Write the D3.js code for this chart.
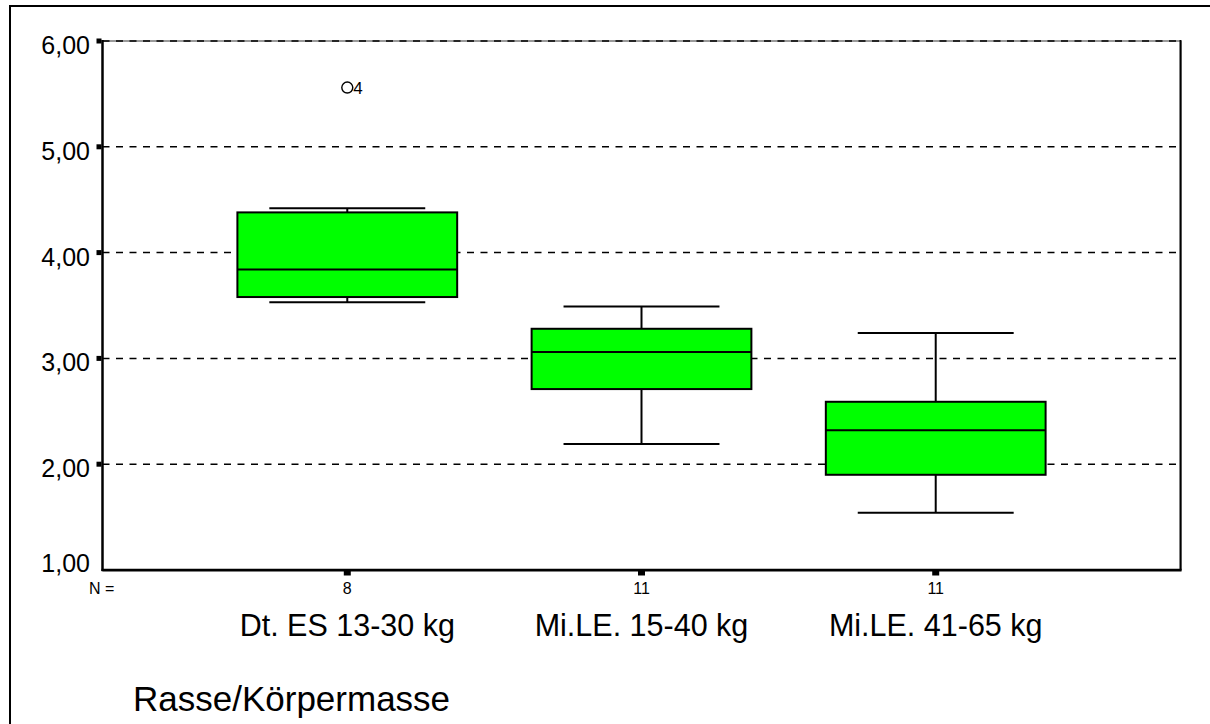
<!DOCTYPE html>
<html>
<head>
<meta charset="utf-8">
<script src="https://cdn.jsdelivr.net/npm/d3@7"></script>
<style>
  body { margin: 0; background: #fff; }
  svg { display: block; font-family: "Liberation Sans", Arial, sans-serif; }
</style>
</head>
<body>
<div id="chart"></div>
<script>
// data
var categories = ["Dt. ES 13-30 kg", "Mi.LE. 15-40 kg", "Mi.LE. 41-65 kg"];
var counts = [8, 11, 11];
var whiskerLow = [3.53, 2.19, 1.54];
var q1 = [3.58, 2.71, 1.90];
var median = [3.84, 3.06, 2.32];
var q3 = [4.38, 3.28, 2.59];
var whiskerHigh = [4.42, 3.49, 3.24];
var outliers = [{cat: 0, value: 5.56, label: "4"}];
var yTicks = [1, 2, 3, 4, 5, 6];
var axisTitle = "Rasse/Körpermasse";

var width = 1210, height = 724;
var plot = {left: 102.5, right: 1180.5, top: 41, bottom: 570};

var de = d3.formatLocale({decimal: ",", thousands: ".", grouping: [3], currency: ["", " €"]});
var fmt = de.format(".2f");

var svg = d3.select("#chart").append("svg")
    .attr("width", width)
    .attr("height", height);

// outer frame (cut off at right / bottom)
svg.append("rect")
    .attr("x", 10).attr("y", 6)
    .attr("width", 1220).attr("height", 740)
    .attr("fill", "none").attr("stroke", "#000").attr("stroke-width", 2);

var x = d3.scalePoint()
    .domain(categories)
    .range([plot.left, plot.right])
    .padding(0.832);

var y = d3.scaleLinear()
    .domain([1, 6])
    .range([plot.bottom, plot.top]);

var step = x.step();
var boxW = step * 0.747;
var capW = step * 0.53;

// plot frame
svg.append("line")
    .attr("x1", plot.left).attr("x2", plot.right)
    .attr("y1", y(6)).attr("y2", y(6))
    .attr("stroke", "#999").attr("stroke-width", 2);
svg.append("line")
    .attr("x1", plot.right + 1).attr("x2", plot.right + 1)
    .attr("y1", y(6)).attr("y2", y(1) + 1)
    .attr("stroke", "#aaa").attr("stroke-width", 1);
svg.append("line")
    .attr("x1", plot.left).attr("x2", plot.right + 1)
    .attr("y1", y(1) + 1.5).attr("y2", y(1) + 1.5)
    .attr("stroke", "#aaa").attr("stroke-width", 1);
svg.append("line")
    .attr("x1", plot.right).attr("x2", plot.right)
    .attr("y1", y(6) - 1).attr("y2", y(1))
    .attr("stroke", "#000").attr("stroke-width", 2);

// dashed grid lines
svg.append("g")
    .selectAll("line")
    .data(yTicks.filter(function (d) { return d > 1; }))
    .enter().append("line")
    .attr("x1", plot.left).attr("x2", plot.right - 1)
    .attr("y1", function (d) { return y(d); })
    .attr("y2", function (d) { return y(d); })
    .attr("stroke", "#000")
    .attr("stroke-width", 1.5)
    .attr("stroke-dasharray", "7,6.5");

svg.append("line")
    .attr("x1", plot.left).attr("x2", plot.left)
    .attr("y1", y(6) - 1).attr("y2", y(1) + 1)
    .attr("stroke", "#000").attr("stroke-width", 2.5);
svg.append("line")
    .attr("x1", plot.left - 1).attr("x2", plot.right + 1)
    .attr("y1", y(1)).attr("y2", y(1))
    .attr("stroke", "#000").attr("stroke-width", 2.5);

// y ticks and labels
var yg = svg.append("g");
yg.selectAll("rect")
    .data(yTicks.filter(function (d) { return d > 1; }))
    .enter().append("rect")
    .attr("x", plot.left - 6)
    .attr("y", function (d) { return y(d) - 2.5; })
    .attr("width", 5).attr("height", 5)
    .attr("fill", "#000");
yg.selectAll("text")
    .data(yTicks)
    .enter().append("text")
    .attr("x", 90)
    .attr("y", function (d) { return d === 1 ? y(d) + 2 : y(d) + 13; })
    .attr("text-anchor", "end")
    .attr("font-size", 25)
    .attr("fill", "#000")
    .text(function (d) { return fmt(d); });

// x ticks, counts and labels
var xg = svg.append("g");
xg.selectAll("rect")
    .data(categories)
    .enter().append("rect")
    .attr("x", function (d) { return x(d) - 3.5; })
    .attr("y", y(1) + 0.5)
    .attr("width", 7).attr("height", 5)
    .attr("fill", "#000");
xg.selectAll("text.n")
    .data(categories)
    .enter().append("text")
    .attr("class", "n")
    .attr("x", function (d) { return x(d); })
    .attr("y", 594)
    .attr("text-anchor", "middle")
    .attr("font-size", 16)
    .text(function (d, i) { return counts[i]; });
xg.append("text")
    .attr("x", 89).attr("y", 594)
    .attr("font-size", 16)
    .text("N =");
xg.selectAll("text.cat")
    .data(categories)
    .enter().append("text")
    .attr("class", "cat")
    .attr("x", function (d) { return x(d); })
    .attr("y", 636)
    .attr("text-anchor", "middle")
    .attr("font-size", 30.5)
    .text(function (d) { return d; });

svg.append("text")
    .attr("x", 133).attr("y", 711)
    .attr("font-size", 35)
    .text(axisTitle);

// boxes
var boxes = svg.append("g")
    .selectAll("g")
    .data(categories)
    .enter().append("g");

boxes.append("line")
    .attr("x1", function (d) { return x(d); })
    .attr("x2", function (d) { return x(d); })
    .attr("y1", function (d, i) { return y(whiskerHigh[i]); })
    .attr("y2", function (d, i) { return y(whiskerLow[i]); })
    .attr("stroke", "#000").attr("stroke-width", 2);

boxes.selectAll("line.cap")
    .data(function (d, i) { return [whiskerLow[i], whiskerHigh[i]].map(function (v) { return {c: d, v: v}; }); })
    .enter().append("line")
    .attr("class", "cap")
    .attr("x1", function (d) { return x(d.c) - capW / 2; })
    .attr("x2", function (d) { return x(d.c) + capW / 2; })
    .attr("y1", function (d) { return y(d.v); })
    .attr("y2", function (d) { return y(d.v); })
    .attr("stroke", "#000").attr("stroke-width", 2);

boxes.append("rect")
    .attr("x", function (d) { return x(d) - boxW / 2; })
    .attr("y", function (d, i) { return y(q3[i]); })
    .attr("width", boxW)
    .attr("height", function (d, i) { return y(q1[i]) - y(q3[i]); })
    .attr("fill", "#00ff00")
    .attr("stroke", "#000").attr("stroke-width", 2);

boxes.append("line")
    .attr("x1", function (d) { return x(d) - boxW / 2; })
    .attr("x2", function (d) { return x(d) + boxW / 2; })
    .attr("y1", function (d, i) { return y(median[i]); })
    .attr("y2", function (d, i) { return y(median[i]); })
    .attr("stroke", "#000").attr("stroke-width", 2);

// outliers
var out = svg.append("g")
    .selectAll("g")
    .data(outliers)
    .enter().append("g");
out.append("circle")
    .attr("cx", function (d) { return x(categories[d.cat]); })
    .attr("cy", function (d) { return y(d.value); })
    .attr("r", 5.5)
    .attr("fill", "none")
    .attr("stroke", "#000").attr("stroke-width", 1.4);
out.append("text")
    .attr("x", function (d) { return x(categories[d.cat]) + 6; })
    .attr("y", function (d) { return y(d.value) + 6; })
    .attr("font-size", 17)
    .text(function (d) { return d.label; });
</script>
</body>
</html>
